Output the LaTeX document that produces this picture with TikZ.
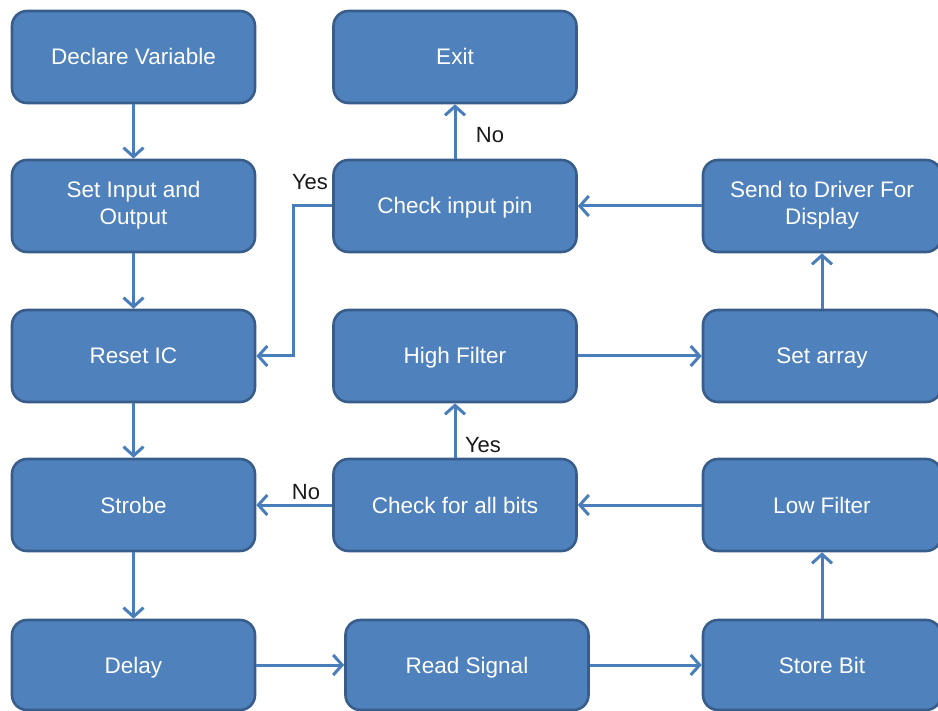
\documentclass[tikz,border=0pt]{standalone}
\usepackage{fontspec}
\setmainfont{Liberation Sans}
\usetikzlibrary{arrows.meta}
\definecolor{boxfill}{HTML}{4F81BD}
\definecolor{boxline}{HTML}{385D8A}
\definecolor{arrowc}{HTML}{4A7EBB}
\newcommand{\boxstrut}{\rule[-6pt]{0pt}{28pt}}
\begin{document}
\begin{tikzpicture}[x=1pt,y=-1pt,
  box/.style={draw=boxline, fill=boxfill, line width=2.6pt, rounded corners=15pt,
    minimum width=243pt, minimum height=92pt, text=white, align=center,
    font=\fontsize{22.5}{27}\selectfont, inner sep=2pt,
    execute at begin node=\boxstrut, execute at end node=\boxstrut},
  flow/.style={draw=arrowc, line width=3pt,
    -{Straight Barb[length=9pt,width=20pt,line width=3pt]}},
  lbl/.style={font=\fontsize{22}{26}\selectfont, text=black!90, inner sep=0pt}]
\useasboundingbox (0,0) rectangle (938,711);
\node[box] (decl) at (133.5,57) {Declare Variable};
\node[box] (setio) at (133.5,206) {Set Input and\\Output};
\node[box] (reset) at (133.5,356) {Reset IC};
\node[box] (strobe) at (133.5,505) {Strobe};
\node[box, minimum height=90pt] (delay) at (133.5,665) {Delay};
\node[box] (exit) at (455,57) {Exit};
\node[box] (pin) at (455,206) {Check input pin};
\node[box] (high) at (455,356) {High Filter};
\node[box] (bits) at (455,505) {Check for all bits};
\node[box, minimum height=90pt] (read) at (467,665) {Read Signal};
\node[box, minimum width=238pt] (send) at (822,206) {Send to Driver For\\Display};
\node[box, minimum width=238pt] (arr) at (822,356) {Set array};
\node[box, minimum width=238pt] (low) at (822,505) {Low Filter};
\node[box, minimum width=238pt, minimum height=90pt] (store) at (822,665) {Store Bit};
\coordinate (bend1) at (293,206);
\coordinate (bend2) at (293,356);
\draw[flow] (decl) -- (setio);
\draw[flow] (setio) -- (reset);
\draw[flow] (reset) -- (strobe);
\draw[flow] (strobe) -- (delay);
\draw[flow] (delay) -- (read);
\draw[flow] (read) -- (store);
\draw[flow] (store) -- (low);
\draw[flow] (low) -- (bits);
\draw[flow] (bits) -- (strobe);
\draw[flow] (bits) -- (high);
\draw[flow] (high) -- (arr);
\draw[flow] (arr) -- (send);
\draw[flow] (send) -- (pin);
\draw[flow] (pin) -- (exit);
\draw[flow] (pin.west) -- (bend1) -- (bend2) -- (reset.east);
\node[lbl] (no1) at (490,135) {No};
\node[lbl] (yes2) at (483,445) {Yes};
\node[lbl] (yes1) at (310,182) {Yes};
\node[lbl] (no2) at (306,492) {No};
\end{tikzpicture}
\end{document}
